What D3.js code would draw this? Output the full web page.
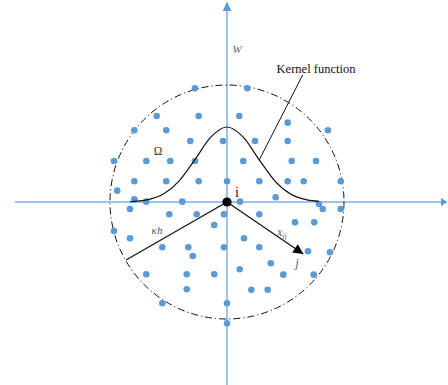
<!DOCTYPE html>
<html>
<head>
<meta charset="utf-8">
<script src="https://cdn.jsdelivr.net/npm/d3@7/dist/d3.min.js"></script>
<style>
  html, body { margin: 0; padding: 0; background: #fff; }
  svg { display: block; }
  text { font-family: "Liberation Serif", "DejaVu Serif", serif; }
</style>
</head>
<body>
<svg id="chart" width="448" height="385"></svg>
<script>
// Neighbour particles around particle i (units: support radius κh = 10)
const neighbourX = [
  -2.74, -6.01, -2.42, -7.92, -5.19, -3.14, -0.34, -9.66, -6.90, -4.85,
  -2.74, -7.92, -5.19, -2.42, 0.00, -9.38, -7.92, -6.90, -3.82, -8.29,
  1.74, 1.05, 5.19, 8.63, 2.39, 5.19, 1.39, 5.53, 7.61, 2.76,
  5.19, 6.56, 9.72, 1.11, 4.16, 7.86, 8.18, 9.72, -4.93, -2.59,
  -0.26, -9.66, -8.29, -1.09, -5.53, -3.31, -0.26, -2.93, -6.90, -3.44,
  -1.09, -3.44, -5.53, 0.00, 0.00, 2.76, 5.81, 7.46, 1.45, 2.76,
  6.92, 8.80, 3.74, 1.09, 4.81, 7.41, 2.08, 3.48
];
const neighbourY = [
  9.72, 7.35, 7.35, 6.13, 6.13, 5.21, 5.21, 3.50, 3.50, 3.50,
  3.50, 1.77, 1.77, 1.77, 1.77, 0.97, 0.23, 0.03, 0.03, -0.60,
  9.72, 7.35, 6.78, 6.13, 5.21, 5.21, 3.50, 3.50, 3.50, 1.77,
  1.77, 1.77, 1.77, 0.03, 0.40, -0.17, -0.60, -0.60, -1.05, -1.05,
  -1.05, -2.48, -3.10, -1.97, -3.87, -3.87, -3.87, -4.62, -6.18, -6.18,
  -6.18, -7.46, -8.66, -8.66, -10.37, -1.05, -1.74, -1.74, -3.10, -3.87,
  -4.21, -4.30, -5.24, -5.75, -6.21, -6.21, -7.50, -7.50
];

// Kernel function profile W(r) sampled along the horizontal axis
const kernelX = [-8.29, -6.84, -5.47, -4.10, -2.74, -1.37, 0, 1.37, 2.74, 4.10, 5.47, 6.84, 7.86];
const kernelW = [0.02, 0.18, 0.66, 1.79, 3.63, 5.56, 6.41, 5.56, 3.63, 1.79, 0.66, 0.18, 0.06];

// Support radius and the two highlighted vectors
const supportRadius = [10];
const smoothingEnd = [-8.63, -4.96];   // end of the κh radius
const neighbourJ = [6.52, -4.45];      // particle j for x_ij
const kernelLeader = [[2.76, 3.60], [6.47, 10.86]];

const svg = d3.select("#chart");
const W = 448, H = 385;
const cx = 227, cy = 202, unitPx = 11.7;

const x = d3.scaleLinear().domain([0, 1]).range([cx, cx + unitPx]);
const y = d3.scaleLinear().domain([0, 1]).range([cy, cy - unitPx]);

const axisColor = "#7eb0e0";
const dotColor = "#5b9bd5";

// Coordinate axes with arrow heads
svg.append("line")
  .attr("x1", 15).attr("x2", W - 6)
  .attr("y1", y(0)).attr("y2", y(0))
  .attr("stroke", axisColor).attr("stroke-width", 1.5);
svg.append("path")
  .attr("d", `M${W - 0.5},${y(0)} L${W - 7},${y(0) - 4} L${W - 7},${y(0) + 4} Z`)
  .attr("fill", dotColor);

svg.append("line")
  .attr("x1", x(0)).attr("x2", x(0))
  .attr("y1", H).attr("y2", 10)
  .attr("stroke", axisColor).attr("stroke-width", 1.5);
svg.append("path")
  .attr("d", `M${x(0)},1.5 L${x(0) - 4.3},11 L${x(0) + 4.3},11 Z`)
  .attr("fill", dotColor);

// Support domain boundary
svg.append("circle")
  .attr("cx", x(0)).attr("cy", y(0))
  .attr("r", x(supportRadius[0]) - x(0))
  .attr("fill", "none")
  .attr("stroke", "#111")
  .attr("stroke-width", 1)
  .attr("stroke-dasharray", "7,3,1.2,3");

// Neighbour particles
svg.append("g")
  .selectAll("circle")
  .data(neighbourX.map((v, k) => [v, neighbourY[k]]))
  .join("circle")
  .attr("cx", d => x(d[0]))
  .attr("cy", d => y(d[1]))
  .attr("r", 3.3)
  .attr("fill", dotColor);

// Kernel function curve
const kernelLine = d3.line()
  .x(d => x(d[0]))
  .y(d => y(d[1]))
  .curve(d3.curveMonotoneX);
svg.append("path")
  .datum(kernelX.map((v, k) => [v, kernelW[k]]))
  .attr("d", kernelLine)
  .attr("fill", "none")
  .attr("stroke", "#111")
  .attr("stroke-width", 1.2);

// Leader line to the kernel label
svg.append("line")
  .attr("x1", x(kernelLeader[0][0])).attr("y1", y(kernelLeader[0][1]))
  .attr("x2", x(kernelLeader[1][0])).attr("y2", y(kernelLeader[1][1]))
  .attr("stroke", "#111").attr("stroke-width", 1);

// κh radius
svg.append("line")
  .attr("x1", x(0)).attr("y1", y(0))
  .attr("x2", x(smoothingEnd[0])).attr("y2", y(smoothingEnd[1]))
  .attr("stroke", "#111").attr("stroke-width", 1.2);

// x_ij vector with arrow head
const defs = svg.append("defs");
defs.append("marker")
  .attr("id", "arrowHead")
  .attr("viewBox", "0 0 10 10")
  .attr("refX", 10).attr("refY", 5)
  .attr("markerWidth", 12).attr("markerHeight", 10)
  .attr("markerUnits", "userSpaceOnUse")
  .attr("orient", "auto")
  .append("path")
  .attr("d", "M0,0 L10,5 L0,10 Z")
  .attr("fill", "#000");
svg.append("line")
  .attr("x1", x(0)).attr("y1", y(0))
  .attr("x2", x(neighbourJ[0])).attr("y2", y(neighbourJ[1]))
  .attr("stroke", "#111").attr("stroke-width", 1.2)
  .attr("marker-end", "url(#arrowHead)");

// Particle i
svg.append("circle")
  .attr("cx", x(0)).attr("cy", y(0))
  .attr("r", 4.6)
  .attr("fill", "#000");

// Labels
function label(text, px, py, opts = {}) {
  return svg.append("text")
    .attr("x", px).attr("y", py)
    .style("font-size", (opts.size || 12) + "px")
    .style("font-style", opts.italic ? "italic" : "normal")
    .attr("fill", opts.color || "#111")
    .attr("text-anchor", opts.anchor || "middle")
    .text(text);
}

label("Kernel function", 316, 73, { size: 12.5 });
label("W", 237, 53, { size: 11, italic: true, color: "#666" });
label("Ω", 158, 155, { size: 11.5, color: "#333" });
label("i", 237, 197, { size: 14 });
label("κh", 157, 234, { size: 11, italic: true, color: "#555" });
const xij = label("x", 282, 236, { size: 11.5, italic: true, color: "#666" });
xij.append("tspan").style("font-size", "8px").attr("dy", 3).text("ij");
label("j", 297, 267, { size: 11.5, italic: true, color: "#555" });
</script>
</body>
</html>
